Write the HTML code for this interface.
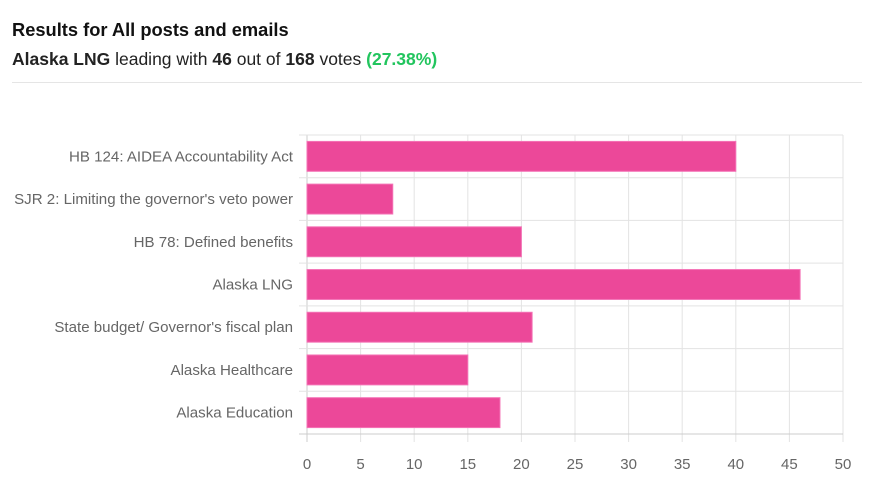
<!DOCTYPE html>
<html><head><meta charset="utf-8"><style>
body{margin:0;background:#fff;width:870px;height:500px;overflow:hidden;font-family:"Liberation Sans",sans-serif}
#t{position:absolute;left:12px;top:19px;font-size:18.3px;color:#111;font-weight:bold}
#s{position:absolute;left:12px;top:49px;font-size:17.5px;color:#222}
#hr{position:absolute;left:12px;top:82px;width:850px;height:1px;background:#e5e5e5}
svg{position:absolute;left:0;top:0}
</style></head><body>
<div id="t">Results for All posts and emails</div>
<div id="s"><b>Alaska LNG</b> leading with <b>46</b> out of <b>168</b> votes <b style="color:#22c55e">(27.38%)</b></div>
<div id="hr"></div>
<svg id="c" width="870" height="500"></svg>
<script>
const categories=["HB 124: AIDEA Accountability Act","SJR 2: Limiting the governor's veto power","HB 78: Defined benefits","Alaska LNG","State budget/ Governor's fiscal plan","Alaska Healthcare","Alaska Education"];
const votes=[40,8,20,46,21,15,18];
const ticks=[0,5,10,15,20,25,30,35,40,45,50];
const L=307,R=843,T=135,B=434,max=50;
const x=v=>L+(R-L)*v/max;
const band=(B-T)/categories.length;
const y=i=>T+band*i;
const svg=document.getElementById('c');const NS='http://www.w3.org/2000/svg';
function mk(tag,a){const e=document.createElementNS(NS,tag);for(const k in a)e.setAttribute(k,a[k]);svg.appendChild(e);return e;}
ticks.forEach(t=>{
 const g=mk('line',{x1:x(t),x2:x(t),y1:T,y2:B+8,stroke:t===0?'#ccc':'#e3e3e3'});
 
 
 const tx=mk('text',{x:x(t),y:469,'text-anchor':'middle','font-size':15,fill:'#666','font-family':'Liberation Sans, sans-serif'});
 tx.textContent=t;
 
 
});
for(let i=0;i<=categories.length;i++){
 const g=mk('line',{x1:L-8,x2:R,y1:y(i),y2:y(i),stroke:i===categories.length?'#ccc':'#e3e3e3'});
 
 
}
categories.forEach((c,i)=>{
 const h=band*0.7;
 const r=mk('rect',{x:x(0),y:y(i)+band*0.15,width:x(votes[i])-x(0),height:h,fill:'#ec4899',stroke:'#f472b6','stroke-width':1});
 
 
 const tx=mk('text',{x:293,y:y(i)+band/2+5,'text-anchor':'end','font-size':15.1,fill:'#666','font-family':'Liberation Sans, sans-serif'});
 tx.textContent=c;
 
 
});
</script>
</body></html>
